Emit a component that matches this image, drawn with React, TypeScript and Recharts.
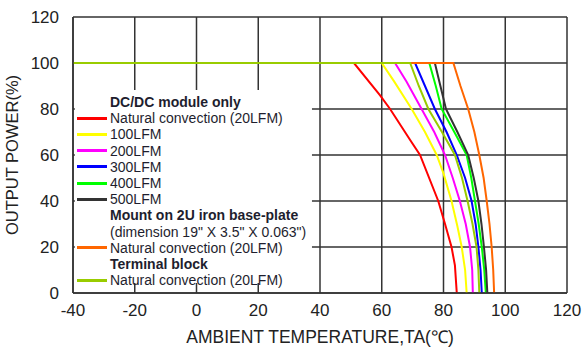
import { CartesianGrid, Line, LineChart, ReferenceArea, XAxis, YAxis } from 'recharts';

// ambient temperature (°C) vs output power (%)
const dcdcNatural = [[-40, 100], [51, 100], [59.4, 86], [62.7, 80], [69.2, 66.5], [72.4, 60], [78.3, 40], [80.5, 30], [82.6, 20], [83.7, 12], [84.3, 0]];
const dcdc100 = [[-40, 100], [60, 100], [64, 92], [69.7, 80], [74, 70], [77.8, 60], [80, 52], [82.6, 40], [84.5, 29], [85.9, 20], [87, 10], [87.5, 0]];
const dcdc200 = [[-40, 100], [64.3, 100], [68, 92], [72.9, 80], [77, 70], [80.5, 60], [83, 50], [85.3, 40], [87.2, 30], [88.6, 20], [89.3, 10], [89.5, 0]];
const dcdc300 = [[-40, 100], [70.8, 100], [74, 90], [77.2, 80], [81, 70], [84.3, 60], [87, 50], [89.1, 40], [90.4, 30], [91.3, 20], [92, 10], [92.4, 0]];
const dcdc400 = [[-40, 100], [75.4, 100], [77.5, 90], [79.4, 80], [83.5, 70], [87.5, 60], [89, 50], [90.2, 40], [91.4, 30], [92.4, 20], [93.2, 10], [93.7, 0]];
const dcdc500 = [[-40, 100], [77.2, 100], [79, 90], [80.8, 80], [84.5, 70], [88, 60], [89.8, 50], [91.3, 40], [92.3, 30], [93.1, 20], [93.8, 10], [94.2, 0]];
const basePlate = [[-40, 100], [83.2, 100], [85.5, 90], [88, 80], [90, 70], [91.6, 60], [93, 50], [94, 40], [94.9, 30], [95.6, 20], [96.1, 10], [96.4, 0]];
const terminal = [[-40, 100], [69.2, 100], [72, 90], [75.1, 80], [79.5, 70], [83.7, 60], [86, 50], [87.8, 40], [89.4, 30], [90.7, 20], [91.3, 10], [91.6, 0]];

const xTicks = [-40, -20, 0, 20, 40, 60, 80, 100, 120];
const yTicks = [0, 20, 40, 60, 80, 100, 120];

const series = [
    { key: 'red', name: 'Natural convection (20LFM)', data: dcdcNatural, color: '#ff0000' },
    { key: 'yellow', name: '100LFM', data: dcdc100, color: '#ffff00' },
    { key: 'magenta', name: '200LFM', data: dcdc200, color: '#ff00ff' },
    { key: 'blue', name: '300LFM', data: dcdc300, color: '#0000ff' },
    { key: 'green', name: '400LFM', data: dcdc400, color: '#00ff00' },
    { key: 'black', name: '500LFM', data: dcdc500, color: '#333333' },
    { key: 'orange', name: 'Natural convection (20LFM)', data: basePlate, color: '#ff6600' },
    { key: 'olive', name: 'Natural convection (20LFM)', data: terminal, color: '#99cc00' },
];

const legendRows: { text: string; color?: string; bold?: boolean }[] = [
    { text: 'DC/DC module only', bold: true },
    { text: series[0].name, color: series[0].color },
    { text: series[1].name, color: series[1].color },
    { text: series[2].name, color: series[2].color },
    { text: series[3].name, color: series[3].color },
    { text: series[4].name, color: series[4].color },
    { text: series[5].name, color: series[5].color },
    { text: 'Mount on 2U iron base-plate', bold: true },
    { text: '(dimension 19" X 3.5" X 0.063")' },
    { text: series[6].name, color: series[6].color },
    { text: 'Terminal block', bold: true },
    { text: series[7].name, color: series[7].color },
];

const font = '"Liberation Sans", Arial, sans-serif';

export default function App() {
    return (
        <div style={{ position: 'absolute', left: 0, top: 0, width: 582, height: 349, background: '#fff', fontFamily: font }}>
            <LineChart width={582} height={349} margin={{ top: 17, right: 15, left: 0, bottom: 0 }}>
                <CartesianGrid stroke="#333" strokeWidth={1.5} horizontalValues={yTicks} verticalValues={xTicks} />
                <ReferenceArea x1={-39.4} x2={37.4} y1={4.3} y2={88.3} fill="#fff" fillOpacity={1} stroke="none" />
                <XAxis
                    type="number"
                    dataKey="t"
                    domain={[-40, 120]}
                    ticks={xTicks}
                    allowDuplicatedCategory={false}
                    height={56}
                    tickSize={0}
                    tickMargin={11}
                    stroke="#333"
                    strokeWidth={1.5}
                    tick={{ fill: '#222', fontSize: 17, fontFamily: font }}
                    label={{ value: 'AMBIENT TEMPERATURE,TA(℃)', position: 'insideBottom', offset: 6, fill: '#222', fontSize: 17.5, fontFamily: font }}
                />
                <YAxis
                    type="number"
                    dataKey="p"
                    domain={[0, 120]}
                    ticks={yTicks}
                    width={73}
                    tickSize={0}
                    tickMargin={14}
                    stroke="#333"
                    strokeWidth={1.5}
                    tick={{ fill: '#222', fontSize: 17, fontFamily: font }}
                    label={{ value: 'OUTPUT POWER(%)', angle: -90, position: 'insideLeft', offset: 12, style: { textAnchor: 'middle' }, fill: '#222', fontSize: 16.5, fontFamily: font }}
                />
                {series.map((s) => (
                    <Line
                        key={s.key}
                        data={s.data.map(([t, p]) => ({ t, p }))}
                        dataKey="p"
                        type="linear"
                        stroke={s.color}
                        strokeWidth={2}
                        dot={false}
                        activeDot={false}
                        isAnimationActive={false}
                    />
                ))}
            </LineChart>
            <div style={{ position: 'absolute', left: 77, top: 94, fontSize: 14, color: '#1e1e2e', lineHeight: '16.2px' }}>
                {legendRows.map((r, i) => (
                    <div key={i} style={{ display: 'flex', alignItems: 'center', height: 16.2, whiteSpace: 'nowrap' }}>
                        <span style={{ display: 'inline-block', width: 30, height: 3, marginRight: 3, background: r.color ?? 'transparent' }} />
                        <span style={{ fontWeight: r.bold ? 'bold' : 'normal' }}>{r.text}</span>
                    </div>
                ))}
            </div>
        </div>
    );
}
